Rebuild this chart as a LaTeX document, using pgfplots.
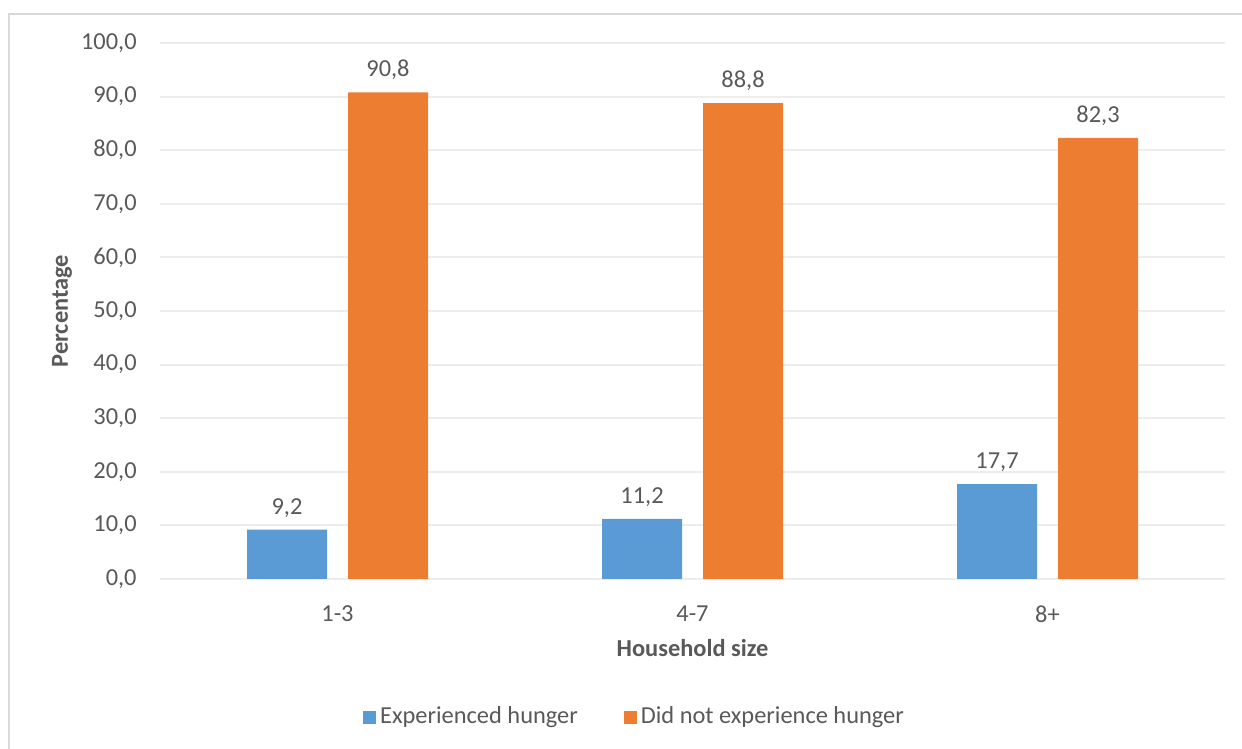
\documentclass[border=0pt]{standalone}
\usepackage{pgfplots}
\pgfplotsset{compat=1.18}
\usepackage{fontspec}
\setmainfont{Carlito}
\definecolor{barblue}{HTML}{5B9BD5}
\definecolor{barorange}{HTML}{ED7D31}
\definecolor{gridgray}{HTML}{EDEDED}
\definecolor{basegray}{HTML}{D9D9D9}
\definecolor{textgray}{HTML}{595959}
\begin{document}
\begin{tikzpicture}
\path[use as bounding box] (0,0) rectangle (621pt,374.5pt);
% outer chart frame
\draw[basegray, line width=0.9pt] (4.5pt,0pt) -- (4.5pt,367.5pt) -- (621pt,367.5pt);
\begin{axis}[
  at={(80pt,85pt)}, anchor=south west,
  scale only axis, width=532.5pt, height=268pt,
  font=\fontsize{12.2}{14.6}\selectfont,
  ybar, bar width=40pt,
  xmin=-0.5, xmax=2.5, ymin=0, ymax=100,
  xtick={0,1,2}, xticklabels={1-3,4-7,8+},
  ytick={0,10,...,100},
  extra y ticks={0}, extra y tick labels={},
  extra y tick style={grid style={basegray, line width=1pt}},
  major tick length=0pt,
  axis line style={draw=none},
  ymajorgrids, major grid style={gridgray, line width=1pt},
  /pgf/number format/assume math mode=true,
  /pgf/number format/.cd, fixed, fixed zerofill, precision=1, use comma, /pgfplots/.cd,
  yticklabel style={text=textgray, anchor=east, inner sep=0pt, xshift=-11.5pt},
  xticklabel style={text=textgray, anchor=north, inner sep=0pt, yshift=-13pt},
  ylabel={\textbf{Percentage}},
  ylabel style={at={(axis description cs:-0.092,0.5)}, anchor=center, text=textgray, font=\fontsize{12.2}{14.6}\selectfont\bfseries},
  xlabel={\textbf{Household size}},
  xlabel style={at={(axis description cs:0.5,0)}, anchor=center, yshift=-34.5pt, text=textgray, font=\fontsize{12.2}{14.6}\selectfont\bfseries},
  nodes near coords,
  every node near coord/.append style={text=textgray, anchor=south, inner sep=0pt, yshift=7.5pt, text depth=0pt,
    /pgf/number format/.cd, fixed, fixed zerofill, precision=1, use comma, assume math mode=true},
  legend columns=2,
  legend style={draw=none, at={(axis description cs:0.4465,-0.2575)}, anchor=center,
    text=textgray, font=\fontsize{12.2}{14.6}\selectfont,
    /tikz/every even column/.append style={column sep=21pt}},
  legend image code/.code={\fill[#1] (0pt,-3.25pt) rectangle (6.5pt,3.25pt);},
]
\addplot[fill=barblue, draw=none, bar shift=-25.25pt] coordinates {(0,9.2) (1,11.2) (2,17.7)};
\addlegendentry{Experienced hunger}
\addplot[fill=barorange, draw=none, bar shift=25.25pt] coordinates {(0,90.8) (1,88.8) (2,82.3)};
\addlegendentry{Did not experience hunger}
\end{axis}
\end{tikzpicture}
\end{document}
